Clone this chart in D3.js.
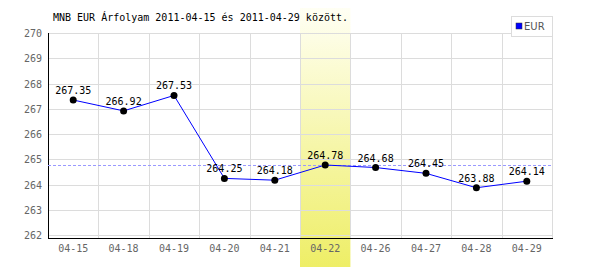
<!DOCTYPE html>
<html>
<head>
<meta charset="utf-8">
<script src="https://cdn.jsdelivr.net/npm/d3@7"></script>
<style>
  body { margin: 0; background: #fff; }
  svg { display: block; }
  text { font-family: "DejaVu Sans Mono", monospace; }
</style>
</head>
<body>
<div id="chart"></div>
<script>
// chart data
const dates = ["04-15", "04-18", "04-19", "04-20", "04-21", "04-22", "04-26", "04-27", "04-28", "04-29"];
const rates = [267.35, 266.92, 267.53, 264.25, 264.18, 264.78, 264.68, 264.45, 263.88, 264.14];
const yTicks = [262, 263, 264, 265, 266, 267, 268, 269, 270];
const highlightDate = "04-22";
const refValue = 264.78;
const title = "MNB EUR Árfolyam 2011-04-15 és 2011-04-29 között.";
const seriesName = "EUR";

const w = 600, h = 270;
const margin = { top: 33, right: 48, bottom: 32, left: 48 };

const svg = d3.select("#chart").append("svg")
    .attr("width", w)
    .attr("height", h);

const x = d3.scaleBand()
    .domain(dates)
    .range([margin.left, w - margin.right]);

const y = d3.scaleLinear()
    .domain([262, 270])
    .range([235.3, margin.top]);

// gradient for highlighted day
const grad = svg.append("defs").append("linearGradient")
    .attr("id", "hl").attr("x1", 0).attr("y1", 0).attr("x2", 0).attr("y2", 1);
grad.append("stop").attr("offset", "0%").attr("stop-color", "#fffff4");
grad.append("stop").attr("offset", "100%").attr("stop-color", "#eeee66");

svg.append("rect")
    .attr("x", x(highlightDate))
    .attr("y", 8)
    .attr("width", x.bandwidth())
    .attr("height", 259)
    .attr("fill", "url(#hl)");

// grid
svg.append("g").selectAll("line")
    .data(yTicks)
    .enter().append("line")
    .attr("x1", margin.left).attr("x2", w - margin.right)
    .attr("y1", d => Math.round(y(d)) + 0.5).attr("y2", d => Math.round(y(d)) + 0.5)
    .attr("stroke", "#dcdcdc");

svg.append("g").selectAll("line")
    .data(dates.slice(1).concat(["end"]))
    .enter().append("line")
    .attr("x1", (d, i) => Math.round(margin.left + x.step() * (i + 1)) + 0.5)
    .attr("x2", (d, i) => Math.round(margin.left + x.step() * (i + 1)) + 0.5)
    .attr("y1", margin.top).attr("y2", 238)
    .attr("stroke", "#dcdcdc");

// axes lines
svg.append("line")
    .attr("x1", margin.left + 0.5).attr("x2", margin.left + 0.5)
    .attr("y1", margin.top).attr("y2", 238.5)
    .attr("stroke", "#000");
svg.append("line")
    .attr("x1", margin.left).attr("x2", w - margin.right + 1)
    .attr("y1", 238.5).attr("y2", 238.5)
    .attr("stroke", "#000");

// reference dashed line
svg.append("line")
    .attr("x1", margin.left).attr("x2", w - margin.right)
    .attr("y1", Math.round(y(refValue)) + 0.5).attr("y2", Math.round(y(refValue)) + 0.5)
    .attr("stroke", "#9999ff")
    .attr("stroke-dasharray", "3,2");

// tick labels
svg.append("g").selectAll("text")
    .data(yTicks)
    .enter().append("text")
    .attr("x", 42)
    .attr("y", d => y(d) + 4)
    .attr("text-anchor", "end")
    .attr("fill", "#666")
    .style("font-size", "10px")
    .text(d => d);

svg.append("g").selectAll("text")
    .data(dates)
    .enter().append("text")
    .attr("x", d => x(d) + x.bandwidth() / 2)
    .attr("y", 252)
    .attr("text-anchor", "middle")
    .attr("fill", "#666")
    .style("font-size", "10px")
    .text(d => d);

// series line
const line = d3.line()
    .x((d, i) => x(dates[i]) + x.bandwidth() / 2)
    .y(d => y(d));

svg.append("path")
    .datum(rates)
    .attr("d", line)
    .attr("fill", "none")
    .attr("stroke", "#0000ff")
    .attr("stroke-width", 1);

svg.append("g").selectAll("circle")
    .data(rates)
    .enter().append("circle")
    .attr("cx", (d, i) => x(dates[i]) + x.bandwidth() / 2)
    .attr("cy", d => y(d))
    .attr("r", 3.5)
    .attr("fill", "#000");

svg.append("g").selectAll("text")
    .data(rates)
    .enter().append("text")
    .attr("x", (d, i) => x(dates[i]) + x.bandwidth() / 2)
    .attr("y", d => y(d) - 6)
    .attr("text-anchor", "middle")
    .attr("fill", "#000")
    .style("font-size", "10px")
    .text(d => d.toFixed(2));

// title
svg.append("text")
    .attr("x", 53)
    .attr("y", 21)
    .attr("fill", "#000")
    .style("font-size", "10px")
    .text(title);

// legend
const lg = svg.append("g");
lg.append("rect")
    .attr("x", 511.5).attr("y", 16.5)
    .attr("width", 41).attr("height", 20)
    .attr("fill", "#fff")
    .attr("stroke", "#dcdcdc");
lg.append("rect")
    .attr("x", 516).attr("y", 23)
    .attr("width", 6).attr("height", 6)
    .attr("fill", "#0000ff")
    .attr("stroke", "#333")
    .attr("stroke-width", 0.5);
lg.append("text")
    .attr("x", 524)
    .attr("y", 30)
    .attr("fill", "#555")
    .style("font-family", "DejaVu Sans, sans-serif")
    .style("font-size", "10px")
    .text(seriesName);
</script>
</body>
</html>
